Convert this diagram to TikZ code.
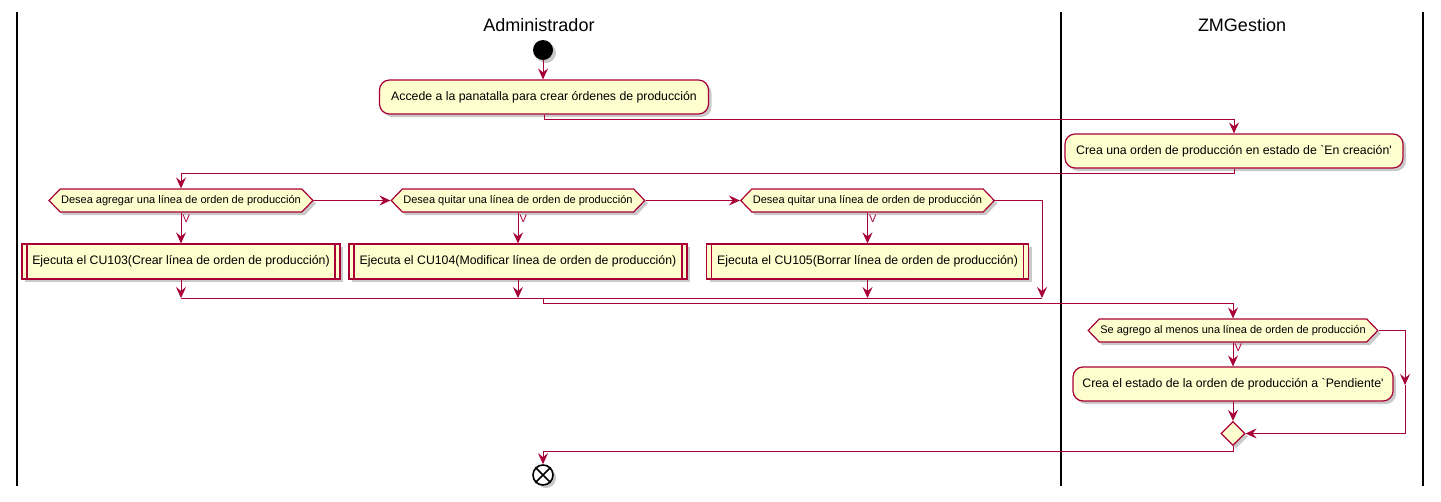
\documentclass[tikz,border=0pt]{standalone}
\usepackage{fontspec}
\setmainfont{Liberation Sans}
\usetikzlibrary{shapes.geometric,shapes.symbols,shadows,arrows.meta,positioning}
\definecolor{umlred}{HTML}{A80036}
\definecolor{umlfill}{HTML}{FEFECE}
\tikzset{
  umlshadow/.style={drop shadow={shadow xshift=3pt,shadow yshift=-3pt,opacity=0.3,fill=black!70}},
  action/.style={draw=umlred,fill=umlfill,line width=1.2pt,rounded corners=10pt,minimum height=34pt,font=\fontsize{12.3}{14}\selectfont,umlshadow},
  choice/.style={draw=umlred,fill=umlfill,line width=1.2pt,shape=signal,signal to=west and east,signal pointer angle=92,minimum height=23pt,inner ysep=0pt,inner xsep=1pt,font=\fontsize{11}{13}\selectfont,umlshadow},
  subcase/.style={draw=umlred,fill=umlfill,line width=1.2pt,minimum height=35pt,font=\fontsize{12.3}{14}\selectfont,umlshadow,
    path picture={\draw[umlred,line width=1.2pt]
      ([xshift=5pt]path picture bounding box.north west) -- ([xshift=5pt]path picture bounding box.south west)
      ([xshift=-5pt]path picture bounding box.north east) -- ([xshift=-5pt]path picture bounding box.south east);}},
  flow/.style={umlred,line width=1pt,-{Stealth[length=11pt,width=10pt,inset=4pt]}},
  wire/.style={umlred,line width=1pt},
  lane/.style={line width=1.6pt,black},
  lanetitle/.style={font=\fontsize{18}{22}\selectfont},
  yes/.style={font=\fontsize{11}{13}\selectfont,right,inner sep=1pt},
}
\begin{document}
\begin{tikzpicture}[x=1pt,y=-1pt]
\useasboundingbox (0,0) rectangle (1441,501);
% swimlanes
\draw[lane] (17,12) -- (17,486);
\draw[lane] (1061,12) -- (1061,486);
\draw[lane] (1423,12) -- (1423,486);
\node[lanetitle] (admin) at (539,25) {Administrador};
\node[lanetitle] (zmg) at (1242,25) {ZMGestion};

% activities
\node[circle,fill=black,minimum size=20pt,inner sep=0pt,umlshadow] (start) at (543,50) {};
\node[action,minimum width=329pt] (act1) at (544,97) {Accede a la panatalla para crear órdenes de producción};
\node[action,minimum width=338pt] (act2) at (1234,151) {Crea una orden de producción en estado de \textasciigrave En creación\textquotesingle};

\node[choice] (dec1) at (181,200.5) {Desea agregar una línea de orden de producción};
\node[choice] (dec2) at (518,200.5) {Desea quitar una línea de orden de producción};
\node[choice] (dec3) at (867.5,200.5) {Desea quitar una línea de orden de producción};

\node[subcase,minimum width=318pt] (cu1) at (181,261.5) {Ejecuta el CU103(Crear línea de orden de producción)};
\node[subcase,minimum width=338pt] (cu2) at (518,261.5) {Ejecuta el CU104(Modificar línea de orden de producción)};
\node[subcase,minimum width=322pt] (cu3) at (867.5,261.5) {Ejecuta el CU105(Borrar línea de orden de producción)};

\coordinate (join) at (543,298);
\coordinate (jright) at (1042,298);

\node[choice] (dec4) at (1233,330.5) {Se agrego al menos una línea de orden de producción};
\node[action,minimum width=320pt] (act3) at (1233,384) {Crea el estado de la orden de producción a \textasciigrave Pendiente\textquotesingle};
\node[diamond,draw=umlred,fill=umlfill,line width=1.2pt,minimum width=24pt,minimum height=24pt,inner sep=0pt,umlshadow] (merge) at (1233,433.5) {};
\coordinate (skip) at (1405,385);

\node[circle,draw=black,fill=white,line width=1.6pt,minimum size=20pt,inner sep=0pt,umlshadow] (stop) at (543,475) {};
\draw[line width=1.6pt] (stop.45) -- (stop.225) (stop.135) -- (stop.315);

% connectors
\draw[flow] (start) -- (start |- act1.north);
\draw[flow] (act1.south) -- ++(0,5) -| (act2.north);
\draw[flow] (act2.south) -- ++(0,5) -| (dec1.north);
\draw[flow] (dec1.east) -- (dec2.west);
\draw[flow] (dec2.east) -- (dec3.west);
\draw[flow] (dec3.east) -| (jright);
\draw[flow] (dec1.south) -- node[yes,pos=0.2]{V} (cu1.north);
\draw[flow] (dec2.south) -- node[yes,pos=0.2]{V} (cu2.north);
\draw[flow] (dec3.south) -- node[yes,pos=0.2]{V} (cu3.north);
\draw[flow] (cu1.south) -- (cu1.south |- join);
\draw[flow] (cu2.south) -- (cu2.south |- join);
\draw[flow] (cu3.south) -- (cu3.south |- join);
\draw[wire] (cu1.south |- join) -- (jright);
\draw[flow] (join) -- ++(0,5) -| (dec4.north);
\draw[flow] (dec4.south) -- node[yes,pos=0.2]{V} (act3.north);
\draw[flow] (dec4.east) -| (skip);
\draw[flow] (skip) |- (merge.east);
\draw[flow] (act3.south) -- (merge.north);
\draw[flow] (merge.south) -- ++(0,5) -| (stop.north);
\end{tikzpicture}
\end{document}
